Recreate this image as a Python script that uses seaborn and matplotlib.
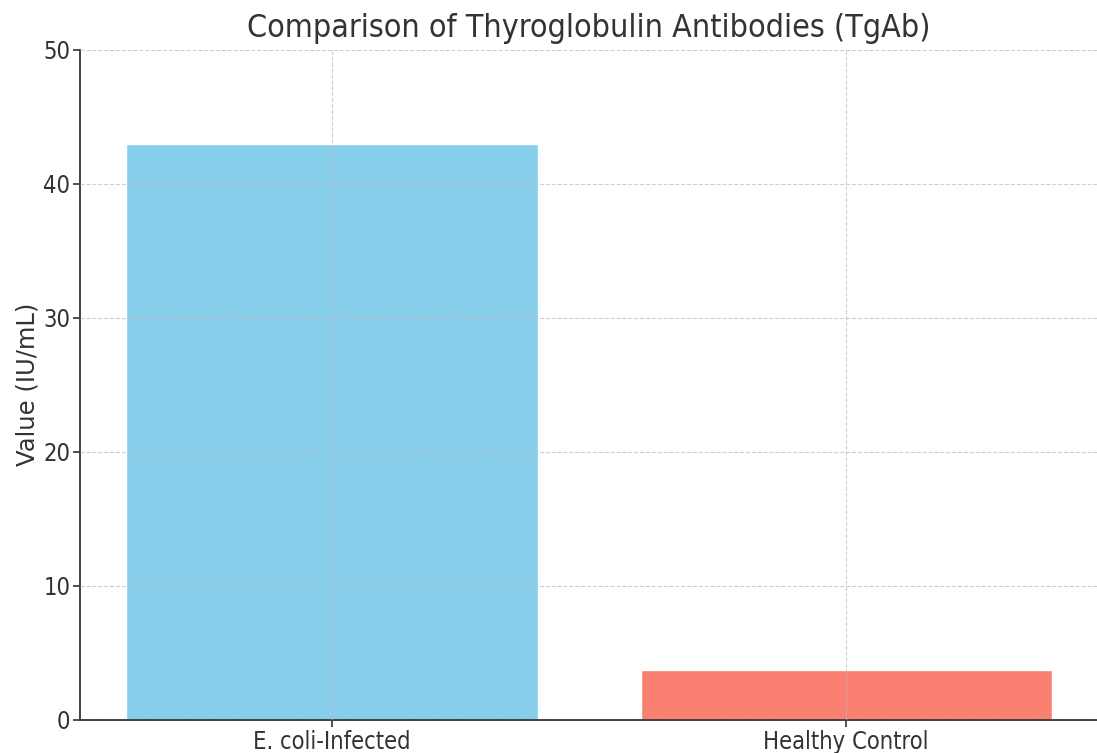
import pandas as pd
import matplotlib.pyplot as plt
import seaborn as sns

groups = ["E. coli-Infected", "Healthy Control"]
values = [43.0, 3.7]
colors = ["#87CEEB", "#FA8072"]

sns.set_style("white")
plt.rcParams["font.family"] = ["DejaVu Sans"]
plt.rcParams["font.stretch"] = "condensed"
plt.rcParams["text.color"] = "#333333"
plt.rcParams["axes.labelcolor"] = "#333333"
plt.rcParams["xtick.color"] = "#333333"
plt.rcParams["ytick.color"] = "#333333"

df = pd.DataFrame({"group": groups, "value": values})

fig = plt.figure(figsize=(10.97, 7.53), dpi=100)
ax = fig.add_axes([0.073, 0.044, 0.928, 0.89])

sns.barplot(data=df, x="group", y="value", hue="group", palette=colors,
            width=0.8, legend=False, saturation=1, ax=ax)

ax.set_xlim(-0.49, 1.49)
ax.set_ylim(0, 50)
ax.set_title("Comparison of Thyroglobulin Antibodies (TgAb)", fontsize=23, pad=9)
ax.set_ylabel("Value (IU/mL)", fontsize=17.5, fontstretch="normal", labelpad=3)
ax.set_xlabel("")
ax.tick_params(axis="both", labelsize=17, length=5, width=1.2, pad=2,
               left=True, bottom=True)
ax.grid(True, linestyle="--", color="#bbbbbb", alpha=0.7, linewidth=0.8)
ax.set_axisbelow(False)
for s in ["top", "right"]:
    ax.spines[s].set_visible(False)
for s in ["left", "bottom"]:
    ax.spines[s].set_color("#333333")
    ax.spines[s].set_linewidth(1.3)

fig.savefig("out.png", dpi=100)
